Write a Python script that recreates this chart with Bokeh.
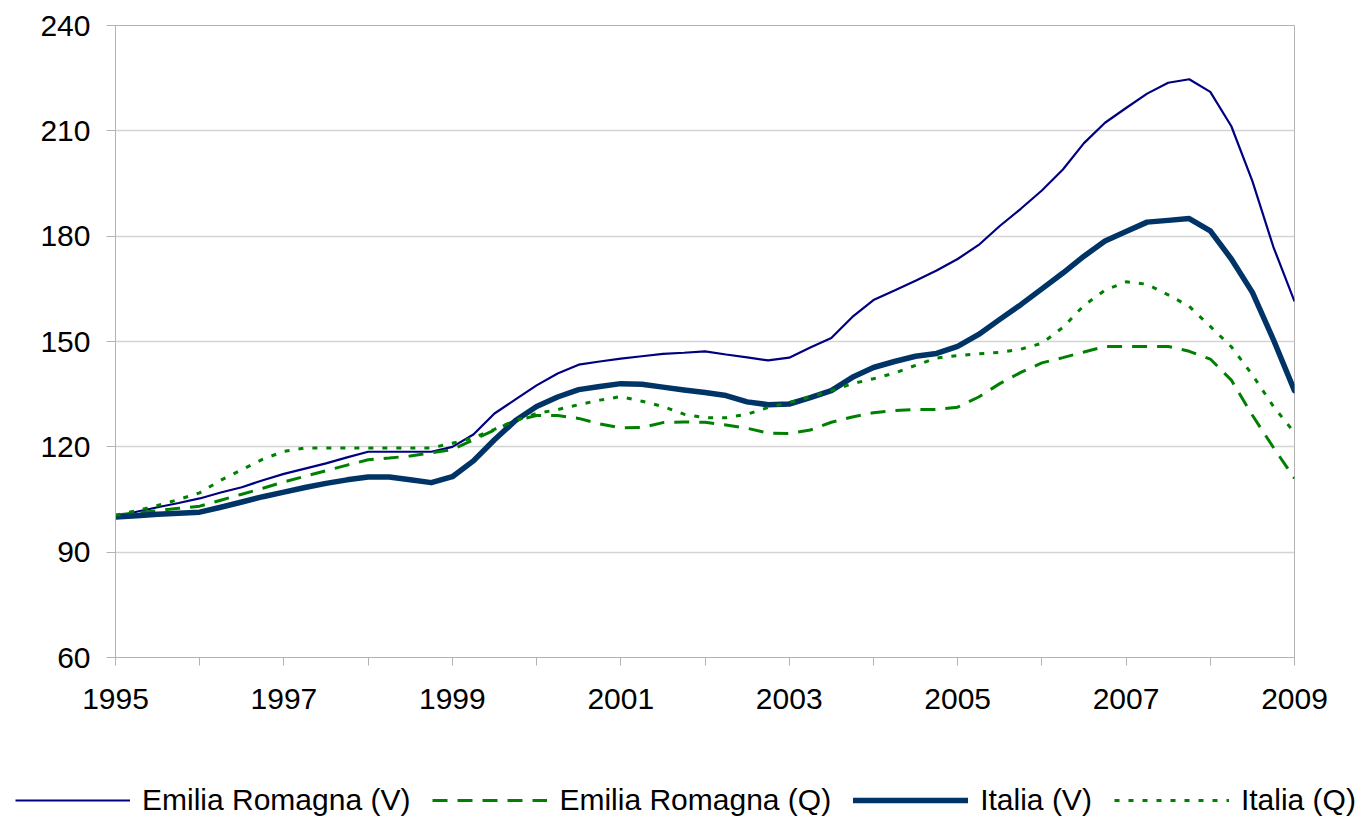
from bokeh.plotting import figure
from bokeh.models import Range1d, FixedTicker, Legend, LegendItem, ColumnDataSource
from bokeh.layouts import column, row
from bokeh.embed import file_html
from bokeh.resources import INLINE

# quarterly index values, 1995Q1 .. 2009Q1
years = [1995 + 0.25 * k for k in range(57)]

er_v = [100, 101.5, 102.8, 104, 105.3, 107, 108.5, 110.5, 112.3, 113.8, 115.3, 117,
        118.6, 118.6, 118.6, 118.6, 120, 123.5, 129.5, 133.5, 137.5, 140.9, 143.4, 144.3,
        145.1, 145.8, 146.5, 146.8, 147.2, 146.3, 145.5, 144.6, 145.4, 148.3, 151, 157,
        161.8, 164.5, 167.3, 170.2, 173.5, 177.5, 182.9, 187.8, 193, 199, 206.5, 212.3,
        216.5, 220.6, 223.7, 224.7, 221.1, 211.3, 195.7, 176.9, 161.4]

er_q = [100.5, 101.2, 101.8, 102.5, 103.1, 104.8, 106.5, 108.2, 110, 111.6, 113.2, 114.8,
        116.3, 116.8, 117.4, 118.3, 119.2, 122, 124.8, 127.5, 128.9, 128.9, 128.1, 126.5,
        125.4, 125.5, 126.9, 127.1, 127, 126.2, 125.3, 123.9, 123.8, 124.8, 127, 128.5,
        129.7, 130.3, 130.6, 130.6, 131.3, 134.2, 138, 141.2, 143.9, 145.4, 147, 148.6,
        148.6, 148.6, 148.6, 147.2, 145, 139, 129, 119.8, 111]

it_v = [100, 100.4, 100.8, 101.1, 101.4, 102.8, 104.3, 105.8, 107.1, 108.4, 109.6, 110.6,
        111.4, 111.4, 110.6, 109.8, 111.5, 116, 122, 127.5, 131.5, 134.2, 136.3, 137.2,
        138, 137.8, 137, 136.2, 135.5, 134.6, 132.8, 132, 132.2, 134, 136, 139.8,
        142.6, 144.3, 145.8, 146.6, 148.6, 152, 156.3, 160.5, 165, 169.5, 174.3, 178.6,
        181.3, 184, 184.5, 185, 181.5, 173.5, 164, 150.5, 136]

it_q = [100.5, 101.8, 103.3, 105, 106.9, 110.5, 113.5, 116.5, 118.7, 119.7, 119.7, 119.7,
        119.7, 119.7, 119.7, 119.7, 121, 122.6, 125, 127.5, 129.5, 130.6, 132, 133.3,
        134.3, 133, 131.5, 129.3, 128.3, 128.3, 129.3, 131.2, 132.6, 134.2, 136, 138,
        139.4, 141, 143.2, 145.3, 146, 146.5, 146.9, 147.8, 149.5, 154, 160.3, 164.6,
        167, 166.3, 163.3, 160, 154.3, 148.5, 140.5, 131.5, 124]

labels = ["Emilia Romagna (V)", "Emilia Romagna (Q)", "Italia (V)", "Italia (Q)"]
year_ticks = list(range(1995, 2010))
y_ticks = [60, 90, 120, 150, 180, 210, 240]

FONT = "Liberation Sans"

styles = [dict(line_color="#000080", line_width=2.2),
          dict(line_color="#008000", line_width=3, line_dash="15 10"),
          dict(line_color="#003366", line_width=5.5, line_cap="round", line_join="round"),
          dict(line_color="#008000", line_width=3, line_dash="5 9")]
cols = ["er_v", "er_q", "it_v", "it_q"]

src = ColumnDataSource(dict(x=years, er_v=er_v, er_q=er_q, it_v=it_v, it_q=it_q))

p = figure(width=1360, height=758, output_backend="svg", toolbar_location=None,
           x_range=Range1d(1995, 2009), y_range=Range1d(60, 240),
           min_border_left=115, min_border_right=66, min_border_top=25,
           min_border_bottom=101)

p.outline_line_color = "#b3b3b3"
p.background_fill_color = "white"

for col, st in zip(cols, styles):
    p.line("x", col, source=src, **st)

# axes
p.xaxis.ticker = FixedTicker(ticks=year_ticks)
p.xaxis.major_label_overrides = {y: (str(y) if y % 2 == 1 else "") for y in year_ticks}
p.yaxis.ticker = FixedTicker(ticks=y_ticks)
for ax in (p.xaxis, p.yaxis):
    ax.axis_line_color = "#b3b3b3"
    ax.major_tick_line_color = "#b3b3b3"
    ax.major_tick_out = 8
    ax.major_tick_in = 0
    ax.minor_tick_line_color = None
    ax.major_label_text_font = FONT
    ax.major_label_text_font_size = "30px"
    ax.major_label_text_color = "black"
p.yaxis.major_tick_out = 9
p.xaxis.major_label_standoff = 23
p.yaxis.major_label_standoff = 16

p.xgrid.grid_line_color = None
p.ygrid.grid_line_color = "#d4d4d4"
p.ygrid.grid_line_width = 1.5

# legend strip below the chart (its lines lie outside this strip's ranges)
lg = figure(width=1360, height=60, output_backend="svg", toolbar_location=None,
            x_range=Range1d(0, 1), y_range=Range1d(0, 1),
            x_axis_location=None, y_axis_location=None,
            min_border_left=0, min_border_right=0, min_border_top=0, min_border_bottom=0)
lg.outline_line_color = None
lg.xgrid.grid_line_color = None
lg.ygrid.grid_line_color = None
items = []
for lab, col, st in zip(labels, cols, styles):
    r = lg.line("x", col, source=src, **st)
    items.append(LegendItem(label=lab, renderers=[r]))

legend = Legend(items=items, orientation="horizontal", location=(15, 1),
                glyph_width=115, glyph_height=20, label_standoff=12, spacing=22,
                label_text_font=FONT, label_text_font_size="30px",
                label_text_color="black",
                border_line_color=None, background_fill_alpha=0,
                padding=0, margin=0)
lg.add_layout(legend, "center")

# the strip is wrapped in its own row so that its frame spans the full width
open("out.html", "w").write(file_html(column(p, row(lg), spacing=0), INLINE))
